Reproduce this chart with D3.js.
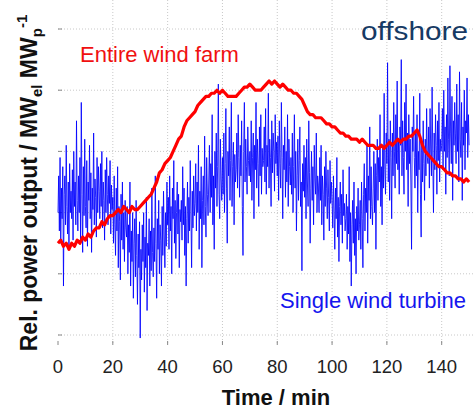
<!DOCTYPE html>
<html>
<head>
<meta charset="utf-8">
<script src="https://cdn.jsdelivr.net/npm/d3@7/dist/d3.min.js"></script>
<style>
  html, body { margin: 0; padding: 0; background: #fff; }
  svg { display: block; font-family: "Liberation Sans", Arial, sans-serif; }
</style>
</head>
<body>
<script>
// time axis ticks (min)
var xTicks = [0, 20, 40, 60, 80, 100, 120, 140];
var yGrid = [0, 0.2, 0.4, 0.6, 0.8, 1.0];

// entire wind farm, one value per minute, t = 0..150
var farmValues = [
  0.30, 0.31, 0.29, 0.30, 0.28, 0.30, 0.29, 0.31, 0.30, 0.32,
  0.31, 0.33, 0.32, 0.34, 0.35, 0.35, 0.37, 0.36, 0.38, 0.39,
  0.39, 0.40, 0.41, 0.40, 0.42, 0.41, 0.40, 0.42, 0.41, 0.41,
  0.42, 0.43, 0.44, 0.45, 0.46, 0.48, 0.50, 0.53, 0.54, 0.56,
  0.57, 0.58, 0.60, 0.62, 0.64, 0.65, 0.68, 0.70, 0.71, 0.72,
  0.73, 0.75, 0.76, 0.77, 0.78, 0.78, 0.79, 0.79, 0.80, 0.79,
  0.80, 0.79, 0.78, 0.78, 0.78, 0.78, 0.79, 0.80, 0.81, 0.81,
  0.82, 0.81, 0.80, 0.80, 0.80, 0.81, 0.82, 0.83, 0.82, 0.83,
  0.82, 0.81, 0.82, 0.81, 0.80, 0.80, 0.79, 0.79, 0.78, 0.77,
  0.75, 0.73, 0.72, 0.72, 0.71, 0.71, 0.71, 0.70, 0.69, 0.69,
  0.68, 0.68, 0.67, 0.66, 0.66, 0.65, 0.65, 0.64, 0.64, 0.64,
  0.63, 0.64, 0.63, 0.62, 0.62, 0.62, 0.61, 0.61, 0.62, 0.61,
  0.62, 0.63, 0.62, 0.63, 0.64, 0.63, 0.64, 0.64, 0.65, 0.65,
  0.66, 0.67, 0.65, 0.62, 0.60, 0.59, 0.58, 0.57, 0.56, 0.55,
  0.55, 0.54, 0.53, 0.53, 0.52, 0.52, 0.51, 0.51, 0.50, 0.51,
  0.50
];

// single wind turbine, one value per quarter minute, t = 0..150 (20 values per 5 min row)
var turbineValues = [
  0.40, 0.52, 0.34, 0.58, 0.30, 0.48, 0.38, 0.55, 0.16, 0.46, 0.52, 0.36, 0.62, 0.42, 0.33, 0.50, 0.28, 0.56, 0.40, 0.47,
  0.38, 0.54, 0.31, 0.60, 0.42, 0.50, 0.36, 0.70, 0.44, 0.34, 0.52, 0.40, 0.58, 0.30, 0.76, 0.46, 0.27, 0.55, 0.39, 0.64,
  0.42, 0.35, 0.57, 0.29, 0.50, 0.44, 0.62, 0.38, 0.53, 0.27, 0.48, 0.41, 0.66, 0.36, 0.51, 0.45, 0.32, 0.58, 0.40, 0.55,
  0.47, 0.38, 0.56, 0.42, 0.60, 0.35, 0.50, 0.44, 0.31, 0.54, 0.40, 0.58, 0.46, 0.36, 0.52, 0.43, 0.57, 0.33, 0.49, 0.41,
  0.45, 0.30, 0.52, 0.36, 0.26, 0.48, 0.34, 0.55, 0.22, 0.42, 0.37, 0.18, 0.46, 0.31, 0.50, 0.28, 0.40, 0.24, 0.44, 0.35,
  0.32, 0.42, 0.20, 0.36, 0.27, 0.50, 0.16, 0.34, 0.24, 0.40, 0.12, 0.30, 0.38, 0.19, 0.44, 0.26, 0.10, 0.33, 0.22, 0.37,
  -0.01, 0.28, 0.18, 0.36, 0.24, 0.40, 0.14, 0.32, 0.22, 0.45, 0.08, 0.30, 0.26, 0.38, 0.16, 0.34, 0.21, 0.48, 0.27, 0.19,
  0.35, 0.24, 0.52, 0.30, 0.12, 0.38, 0.28, 0.44, 0.20, 0.36, 0.31, 0.16, 0.42, 0.26, 0.47, 0.33, 0.22, 0.40, 0.29, 0.50,
  0.36, 0.45, 0.28, 0.52, 0.34, 0.42, 0.20, 0.48, 0.38, 0.57, 0.30, 0.44, 0.25, 0.40, 0.50, 0.33, 0.46, 0.22, 0.41, 0.37,
  0.44, 0.31, 0.55, 0.36, 0.48, 0.26, 0.42, 0.16, 0.38, 0.50, 0.30, 0.45, 0.34, 0.57, 0.40, 0.22, 0.47, 0.35, 0.52, 0.39,
  0.43, 0.56, 0.34, 0.50, 0.40, 0.62, 0.28, 0.47, 0.38, 0.55, 0.22, 0.44, 0.52, 0.36, 0.65, 0.42, 0.32, 0.58, 0.46, 0.39,
  0.50, 0.62, 0.40, 0.56, 0.45, 0.72, 0.36, 0.52, 0.28, 0.60, 0.48, 0.66, 0.42, 0.55, 0.82, 0.46, 0.38, 0.64, 0.51, 0.44,
  0.58, 0.46, 0.66, 0.40, 0.56, 0.74, 0.48, 0.30, 0.60, 0.52, 0.68, 0.44, 0.57, 0.76, 0.42, 0.55, 0.63, 0.36, 0.59, 0.50,
  0.54, 0.66, 0.48, 0.72, 0.58, 0.45, 0.62, 0.52, 0.70, 0.42, 0.26, 0.60, 0.76, 0.50, 0.64, 0.55, 0.46, 0.68, 0.57, 0.52,
  0.60, 0.50, 0.70, 0.44, 0.58, 0.66, 0.38, 0.62, 0.54, 0.76, 0.48, 0.64, 0.56, 0.42, 0.68, 0.52, 0.72, 0.46, 0.61, 0.55,
  0.57, 0.68, 0.50, 0.74, 0.46, 0.62, 0.55, 0.79, 0.48, 0.64, 0.58, 0.42, 0.70, 0.53, 0.66, 0.60, 0.47, 0.72, 0.56, 0.63,
  0.52, 0.65, 0.44, 0.70, 0.56, 0.48, 0.76, 0.58, 0.38, 0.62, 0.54, 0.68, 0.45, 0.60, 0.50, 0.72, 0.42, 0.64, 0.55, 0.49,
  0.58, 0.46, 0.66, 0.40, 0.55, 0.72, 0.48, 0.60, 0.34, 0.52, 0.64, 0.44, 0.57, 0.68, 0.42, 0.50, 0.21, 0.56, 0.47, 0.62,
  0.45, 0.58, 0.38, 0.64, 0.50, 0.42, 0.70, 0.53, 0.30, 0.48, 0.60, 0.44, 0.55, 0.36, 0.62, 0.51, 0.46, 0.66, 0.40, 0.52,
  0.49, 0.40, 0.58, 0.44, 0.62, 0.36, 0.52, 0.46, 0.31, 0.55, 0.42, 0.60, 0.48, 0.38, 0.54, 0.45, 0.34, 0.57, 0.43, 0.50,
  0.44, 0.35, 0.52, 0.40, 0.28, 0.48, 0.38, 0.58, 0.32, 0.45, 0.24, 0.42, 0.50, 0.36, 0.46, 0.30, 0.54, 0.39, 0.43, 0.34,
  0.38, 0.46, 0.28, 0.42, 0.33, 0.55, 0.24, 0.40, 0.16, 0.36, 0.44, 0.30, 0.50, 0.26, 0.38, 0.20, 0.42, 0.34, 0.48, 0.31,
  0.36, 0.44, 0.28, 0.50, 0.38, 0.22, 0.46, 0.56, 0.34, 0.48, 0.40, 0.62, 0.30, 0.52, 0.44, 0.68, 0.38, 0.55, 0.42, 0.36,
  0.48, 0.60, 0.40, 0.56, 0.28, 0.52, 0.64, 0.44, 0.58, 0.50, 0.72, 0.42, 0.55, 0.36, 0.62, 0.48, 0.79, 0.54, 0.46, 0.66,
  0.56, 0.89, 0.50, 0.64, 0.44, 0.70, 0.58, 0.38, 0.66, 0.52, 0.76, 0.60, 0.48, 0.72, 0.56, 0.83, 0.54, 0.64, 0.46, 0.68,
  0.62, 0.90, 0.52, 0.70, 0.58, 0.46, 0.76, 0.60, 0.82, 0.54, 0.66, 0.42, 0.72, 0.56, 0.64, 0.50, 0.28, 0.68, 0.60, 0.78,
  0.58, 0.48, 0.66, 0.52, 0.72, 0.40, 0.60, 0.54, 0.79, 0.46, 0.32, 0.62, 0.50, 0.70, 0.56, 0.44, 0.64, 0.52, 0.74, 0.58,
  0.56, 0.68, 0.48, 0.74, 0.60, 0.52, 0.81, 0.58, 0.40, 0.66, 0.54, 0.72, 0.62, 0.46, 0.70, 0.57, 0.76, 0.50, 0.64, 0.60,
  0.62, 0.74, 0.54, 0.80, 0.60, 0.68, 0.46, 0.72, 0.58, 0.84, 0.64, 0.52, 0.88, 0.66, 0.56, 0.78, 0.44, 0.70, 0.62, 0.76,
  0.66, 0.56, 0.82, 0.60, 0.72, 0.50, 0.86, 0.64, 0.58, 0.76, 0.44, 0.68, 0.62, 0.80, 0.54, 0.70, 0.66, 0.84, 0.58, 0.72,
  0.62
];

var width = 475,
    height = 411;

var x = d3.scaleLinear().domain([0, 140]).range([58, 441.7]);
var y = d3.scaleLinear().domain([0, 1]).range([335, 29]);

var left = x(0), right = x(154), top = 10, bottom = 345;

var svg = d3.select('body')
    .append('svg')
    .attr('width', width)
    .attr('height', height);

// grid
svg.append('g').selectAll('line')
    .data(xTicks.slice(1))
    .enter().append('line')
    .attr('x1', function(d) { return x(d); })
    .attr('x2', function(d) { return x(d); })
    .attr('y1', top).attr('y2', bottom)
    .attr('stroke', '#c8c8c8')
    .attr('stroke-dasharray', '1,2');

svg.append('g').selectAll('line')
    .data(yGrid)
    .enter().append('line')
    .attr('x1', left).attr('x2', right)
    .attr('y1', function(d) { return y(d); })
    .attr('y2', function(d) { return y(d); })
    .attr('stroke', '#c8c8c8')
    .attr('stroke-dasharray', '1,2');

// frame
svg.append('rect')
    .attr('x', left).attr('y', top)
    .attr('width', right - left).attr('height', bottom - top)
    .attr('fill', 'none')
    .attr('stroke', '#aaa')
    .attr('stroke-width', 1.2);

// inward ticks
svg.append('g').selectAll('line')
    .data(xTicks)
    .enter().append('line')
    .attr('x1', function(d) { return x(d); })
    .attr('x2', function(d) { return x(d); })
    .attr('y1', bottom).attr('y2', bottom - 4)
    .attr('stroke', '#888');
svg.append('g').selectAll('line')
    .data(xTicks)
    .enter().append('line')
    .attr('x1', function(d) { return x(d); })
    .attr('x2', function(d) { return x(d); })
    .attr('y1', top).attr('y2', top + 4)
    .attr('stroke', '#888');
svg.append('g').selectAll('line')
    .data(yGrid)
    .enter().append('line')
    .attr('x1', left).attr('x2', left + 4)
    .attr('y1', function(d) { return y(d); })
    .attr('y2', function(d) { return y(d); })
    .attr('stroke', '#888');

// x tick labels
svg.append('g').selectAll('text')
    .data(xTicks)
    .enter().append('text')
    .attr('x', function(d) { return x(d); })
    .attr('y', 373)
    .attr('text-anchor', 'middle')
    .attr('font-size', '18.5px')
    .attr('fill', '#222')
    .text(function(d) { return d; });

// series
var turbineLine = d3.line()
    .x(function(d, i) { return x(i * 0.25); })
    .y(function(d) { return y(d); });

var farmLine = d3.line()
    .x(function(d, i) { return x(i); })
    .y(function(d) { return y(d); });

svg.append('path')
    .datum(turbineValues)
    .attr('d', turbineLine)
    .attr('fill', 'none')
    .attr('stroke', '#0000ff')
    .attr('stroke-opacity', 0.85)
    .attr('stroke-width', 1);

svg.append('path')
    .datum(farmValues)
    .attr('d', farmLine)
    .attr('fill', 'none')
    .attr('stroke', '#ff0000')
    .attr('stroke-width', 3.2)
    .attr('stroke-linejoin', 'round');

// annotations
svg.append('text')
    .attr('x', 80).attr('y', 62)
    .attr('font-size', '22px')
    .attr('fill', '#f01010')
    .text('Entire wind farm');

svg.append('text')
    .attr('x', 361).attr('y', 40)
    .attr('font-size', '25px')
    .attr('fill', '#163a64')
    .attr('textLength', 107)
    .attr('lengthAdjust', 'spacingAndGlyphs')
    .text('offshore');

svg.append('text')
    .attr('x', 280).attr('y', 308)
    .attr('font-size', '22px')
    .attr('fill', '#1515ee')
    .text('Single wind turbine');

// axis titles
svg.append('text')
    .attr('x', 276).attr('y', 405)
    .attr('text-anchor', 'middle')
    .attr('font-size', '22px')
    .attr('font-weight', 'bold')
    .attr('fill', '#111')
    .text('Time / min');

var yTitle = svg.append('text')
    .attr('transform', 'translate(37,183) rotate(-90)')
    .attr('text-anchor', 'middle')
    .attr('font-size', '23px')
    .attr('font-weight', 'bold')
    .attr('fill', '#111');
yTitle.append('tspan').text('Rel. power output / MW');
yTitle.append('tspan').attr('font-size', '15px').attr('dy', 5).text('el');
yTitle.append('tspan').attr('dy', -5).text(' MW');
yTitle.append('tspan').attr('font-size', '15px').attr('dy', 5).text('p');
yTitle.append('tspan').attr('font-size', '15px').attr('dy', -15).text('-1');
</script>
</body>
</html>
